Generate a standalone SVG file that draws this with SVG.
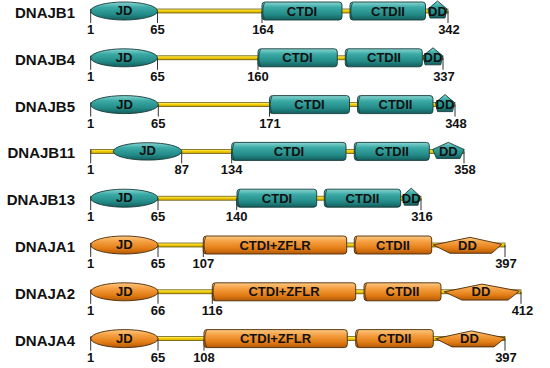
<svg xmlns="http://www.w3.org/2000/svg" width="550" height="368" viewBox="0 0 550 368">
  <defs>
    <linearGradient id="teal" x1="0" y1="0" x2="0" y2="1">
      <stop offset="0" stop-color="#8ad6d2"/>
      <stop offset="0.3" stop-color="#3aa9a5"/>
      <stop offset="0.7" stop-color="#238a87"/>
      <stop offset="1" stop-color="#135e5c"/>
    </linearGradient>
    <linearGradient id="orange" x1="0" y1="0" x2="0" y2="1">
      <stop offset="0" stop-color="#fcc982"/>
      <stop offset="0.3" stop-color="#f5a043"/>
      <stop offset="0.7" stop-color="#e27d15"/>
      <stop offset="1" stop-color="#b35808"/>
    </linearGradient>
    <linearGradient id="linker" x1="0" y1="0" x2="0" y2="1">
      <stop offset="0" stop-color="#fff27a"/>
      <stop offset="0.5" stop-color="#f2cc00"/>
      <stop offset="1" stop-color="#c9a200"/>
    </linearGradient>
  </defs>
  <style>
    .name { font: bold 15px "Liberation Sans", Arial, sans-serif; fill: #111; text-anchor: end; }
    .num { font: bold 13px "Liberation Sans", Arial, sans-serif; fill: #111; text-anchor: middle; }
    .dom { font: bold 13px "Liberation Sans", Arial, sans-serif; fill: #111; text-anchor: middle; }
    .link { fill: url(#linker); stroke: #5a4a00; stroke-width: 0.7; }
    .tick { stroke: #333; stroke-width: 1; fill: none; }
    .t { fill: url(#teal); stroke: #163c3b; stroke-width: 0.9; }
    .o { fill: url(#orange); stroke: #4a2a05; stroke-width: 0.9; }
    .cap { fill: none; stroke: #163c3b; stroke-width: 0.8; }
    .capo { fill: none; stroke: #4a2a05; stroke-width: 0.8; }
  </style>

  <!-- DNAJB1 -->
  <g id="DNAJB1" transform="translate(0,11)">
    <text class="name" x="75" y="7">DNAJB1</text>
    <rect class="link" x="91" y="-2" width="357" height="4"/>
    <path class="tick" d="M90.7,-2V12 M157.5,0V12 M262,0V12 M448,0V12"/>
    <g id="DNAJB1-JD"><ellipse class="t" cx="124.1" cy="0" rx="33.4" ry="9"/><text class="dom" x="124" y="4">JD</text></g>
    <g id="DNAJB1-CTDI"><rect class="t" x="262" y="-9" width="80" height="18" rx="3"/><path class="cap" d="M264.5,-8.5Q261,0 264.5,8.5"/><text class="dom" x="302" y="4.5">CTDI</text></g>
    <g id="DNAJB1-CTDII"><rect class="t" x="350" y="-9" width="75.5" height="18" rx="3"/><path class="cap" d="M352.5,-8.5Q349,0 352.5,8.5"/><text class="dom" x="388" y="4.5">CTDII</text></g>
    <g id="DNAJB1-DD"><polygon class="t" points="437.5,-10 447,-2 445,7 430,7 428,-2"/><text class="dom" x="437.5" y="4.5">DD</text></g>
    <text class="num" x="90.7" y="34" dy="-11">1</text>
    <text class="num" x="157.5" y="23">65</text>
    <text class="num" x="263" y="23">164</text>
    <text class="num" x="449" y="23">342</text>
  </g>

  <!-- DNAJB4 -->
  <g id="DNAJB4" transform="translate(0,57.8)">
    <text class="name" x="75" y="7">DNAJB4</text>
    <rect class="link" x="91" y="-2" width="352" height="4"/>
    <path class="tick" d="M90.7,-2V12 M157.5,0V12 M258,0V12 M443,0V12"/>
    <g id="DNAJB4-JD"><ellipse class="t" cx="124.1" cy="0" rx="33.4" ry="9"/><text class="dom" x="124" y="4">JD</text></g>
    <g id="DNAJB4-CTDI"><rect class="t" x="258" y="-9" width="79.3" height="18" rx="3"/><path class="cap" d="M260.5,-8.5Q257,0 260.5,8.5"/><text class="dom" x="297.5" y="4.5">CTDI</text></g>
    <g id="DNAJB4-CTDII"><rect class="t" x="345.3" y="-9" width="77" height="18" rx="3"/><path class="cap" d="M347.8,-8.5Q344.3,0 347.8,8.5"/><text class="dom" x="384" y="4.5">CTDII</text></g>
    <g id="DNAJB4-DD"><polygon class="t" points="433,-10 442.7,-2 440.7,7 425,7 423,-2"/><text class="dom" x="433" y="4.5">DD</text></g>
    <text class="num" x="90.7" y="23">1</text>
    <text class="num" x="157.5" y="23">65</text>
    <text class="num" x="258" y="23">160</text>
    <text class="num" x="444" y="23">337</text>
  </g>

  <!-- DNAJB5 -->
  <g id="DNAJB5" transform="translate(0,104.6)">
    <text class="name" x="75" y="7">DNAJB5</text>
    <rect class="link" x="91" y="-2" width="364" height="4"/>
    <path class="tick" d="M90.7,-2V12 M158.3,0V12 M269.5,0V12 M455,0V12"/>
    <g id="DNAJB5-JD"><ellipse class="t" cx="124.5" cy="0" rx="33.8" ry="9"/><text class="dom" x="124.5" y="4">JD</text></g>
    <g id="DNAJB5-CTDI"><rect class="t" x="269.5" y="-9" width="80" height="18" rx="3"/><path class="cap" d="M272,-8.5Q268.5,0 272,8.5"/><text class="dom" x="309.5" y="4.5">CTDI</text></g>
    <g id="DNAJB5-CTDII"><rect class="t" x="357.5" y="-9" width="75.5" height="18" rx="3"/><path class="cap" d="M360,-8.5Q356.5,0 360,8.5"/><text class="dom" x="395.5" y="4.5">CTDII</text></g>
    <g id="DNAJB5-DD"><polygon class="t" points="445,-10 454.5,-2 452.5,7 437.5,7 435.5,-2"/><text class="dom" x="445" y="4.5">DD</text></g>
    <text class="num" x="90.7" y="23">1</text>
    <text class="num" x="158.3" y="23">65</text>
    <text class="num" x="270" y="23">171</text>
    <text class="num" x="456" y="23">348</text>
  </g>

  <!-- DNAJB11 -->
  <g id="DNAJB11" transform="translate(0,151.4)">
    <text class="name" x="75" y="7">DNAJB11</text>
    <rect class="link" x="91" y="-2" width="373" height="4"/>
    <path class="tick" d="M90.7,-2V12 M181.7,0V12 M231.7,0V12 M464,0V12"/>
    <g id="DNAJB11-JD"><ellipse class="t" cx="147.5" cy="0" rx="34.2" ry="8.7"/><text class="dom" x="147.5" y="4">JD</text></g>
    <g id="DNAJB11-CTDI"><rect class="t" x="231.7" y="-9" width="114.3" height="18" rx="3"/><path class="cap" d="M234.2,-8.5Q230.7,0 234.2,8.5"/><text class="dom" x="289" y="4.5">CTDI</text></g>
    <g id="DNAJB11-CTDII"><rect class="t" x="354.3" y="-9" width="75" height="18" rx="3"/><path class="cap" d="M356.8,-8.5Q353.3,0 356.8,8.5"/><text class="dom" x="392" y="4.5">CTDII</text></g>
    <g id="DNAJB11-DD"><polygon class="t" points="448.3,-9 464,-2 460,7 436.5,7 432.7,-2"/><text class="dom" x="448.3" y="4.5">DD</text></g>
    <text class="num" x="90.7" y="23">1</text>
    <text class="num" x="181.7" y="23">87</text>
    <text class="num" x="231.7" y="23">134</text>
    <text class="num" x="465" y="23">358</text>
  </g>

  <!-- DNAJB13 -->
  <g id="DNAJB13" transform="translate(0,198.2)">
    <text class="name" x="75" y="7">DNAJB13</text>
    <rect class="link" x="91" y="-2" width="330" height="4"/>
    <path class="tick" d="M90.7,-2V12 M158,0V12 M236.7,0V12 M421,0V12"/>
    <g id="DNAJB13-JD"><ellipse class="t" cx="124.4" cy="0" rx="33.6" ry="9"/><text class="dom" x="124.4" y="4">JD</text></g>
    <g id="DNAJB13-CTDI"><rect class="t" x="237" y="-9" width="79.7" height="18" rx="3"/><path class="cap" d="M239.5,-8.5Q236,0 239.5,8.5"/><text class="dom" x="277" y="4.5">CTDI</text></g>
    <g id="DNAJB13-CTDII"><rect class="t" x="324.3" y="-9" width="76.4" height="18" rx="3"/><path class="cap" d="M326.8,-8.5Q323.3,0 326.8,8.5"/><text class="dom" x="362.5" y="4.5">CTDII</text></g>
    <g id="DNAJB13-DD"><polygon class="t" points="411.2,-10 420,-2 418,7 404.3,7 402.3,-2"/><text class="dom" x="411.2" y="4.5">DD</text></g>
    <text class="num" x="90.7" y="23">1</text>
    <text class="num" x="158" y="23">65</text>
    <text class="num" x="236.7" y="23">140</text>
    <text class="num" x="422" y="23">316</text>
  </g>

  <!-- DNAJA1 -->
  <g id="DNAJA1" transform="translate(0,245)">
    <text class="name" x="75" y="7">DNAJA1</text>
    <rect class="link" x="91" y="-2" width="414" height="4"/>
    <path class="tick" d="M90.7,-2V12 M158,0V12 M203.3,0V12 M505,0V12"/>
    <g id="DNAJA1-JD"><ellipse class="o" cx="124.4" cy="0" rx="33.6" ry="9"/><text class="dom" x="124.4" y="4">JD</text></g>
    <g id="DNAJA1-CTDI"><rect class="o" x="203.3" y="-9" width="143.4" height="18" rx="3"/><path class="capo" d="M205.8,-8.5Q202.3,0 205.8,8.5"/><text class="dom" x="275" y="4.5">CTDI+ZFLR</text></g>
    <g id="DNAJA1-CTDII"><rect class="o" x="354.3" y="-9" width="77.4" height="18" rx="3"/><path class="capo" d="M356.8,-8.5Q353.3,0 356.8,8.5"/><text class="dom" x="393" y="4.5">CTDII</text></g>
    <g id="DNAJA1-DD"><polygon class="o" points="470,-7.7 501.7,-0.7 491.7,8.3 450,8.3 433.3,0"/><text class="dom" x="467.5" y="4.5">DD</text></g>
    <text class="num" x="90.7" y="23">1</text>
    <text class="num" x="158" y="23">65</text>
    <text class="num" x="203.3" y="23">107</text>
    <text class="num" x="506" y="23">397</text>
  </g>

  <!-- DNAJA2 -->
  <g id="DNAJA2" transform="translate(0,291.8)">
    <text class="name" x="75" y="7">DNAJA2</text>
    <rect class="link" x="91" y="-2" width="430" height="4"/>
    <path class="tick" d="M90.7,-2V12 M158,0V12 M212.3,0V12 M521,0V12"/>
    <g id="DNAJA2-JD"><ellipse class="o" cx="124.4" cy="0" rx="33.6" ry="9"/><text class="dom" x="124.4" y="4">JD</text></g>
    <g id="DNAJA2-CTDI"><rect class="o" x="212.3" y="-9" width="143.4" height="18" rx="3"/><path class="capo" d="M214.8,-8.5Q211.3,0 214.8,8.5"/><text class="dom" x="284" y="4.5">CTDI+ZFLR</text></g>
    <g id="DNAJA2-CTDII"><rect class="o" x="364" y="-9" width="77" height="18" rx="3"/><path class="capo" d="M366.5,-8.5Q363,0 366.5,8.5"/><text class="dom" x="402.5" y="4.5">CTDII</text></g>
    <g id="DNAJA2-DD"><polygon class="o" points="482,-7.7 519.3,-0.7 508,8.3 462,8.3 444.3,0"/><text class="dom" x="481" y="4.5">DD</text></g>
    <text class="num" x="90.7" y="23">1</text>
    <text class="num" x="158" y="23">66</text>
    <text class="num" x="212.3" y="23">116</text>
    <text class="num" x="522.5" y="23">412</text>
  </g>

  <!-- DNAJA4 -->
  <g id="DNAJA4" transform="translate(0,338.6)">
    <text class="name" x="75" y="7">DNAJA4</text>
    <rect class="link" x="91" y="-2" width="414" height="4"/>
    <path class="tick" d="M90.7,-2V12 M158,0V12 M204,0V12 M505,0V12"/>
    <g id="DNAJA4-JD"><ellipse class="o" cx="124.4" cy="0" rx="33.6" ry="9"/><text class="dom" x="124.4" y="4">JD</text></g>
    <g id="DNAJA4-CTDI"><rect class="o" x="204" y="-9" width="143.3" height="18" rx="3"/><path class="capo" d="M206.5,-8.5Q203,0 206.5,8.5"/><text class="dom" x="275.5" y="4.5">CTDI+ZFLR</text></g>
    <g id="DNAJA4-CTDII"><rect class="o" x="355.7" y="-9" width="77.6" height="18" rx="3"/><path class="capo" d="M358.2,-8.5Q354.7,0 358.2,8.5"/><text class="dom" x="394.5" y="4.5">CTDII</text></g>
    <g id="DNAJA4-DD"><polygon class="o" points="471.5,-7.7 505,-0.7 494,8.3 452,8.3 435.7,0"/><text class="dom" x="469.5" y="4.5">DD</text></g>
    <text class="num" x="90.7" y="23">1</text>
    <text class="num" x="158" y="23">65</text>
    <text class="num" x="204" y="23">108</text>
    <text class="num" x="506" y="23">397</text>
  </g>
</svg>
